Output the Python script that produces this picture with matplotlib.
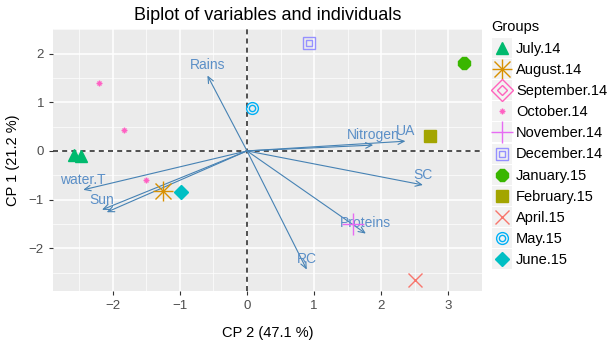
import numpy as np
import matplotlib
matplotlib.use("Agg")
from matplotlib import pyplot as plt

plt.rcParams['font.family'] = ['Liberation Sans', 'DejaVu Sans']

# individuals (CP2 = x, CP1 = y)
groups = ['July.14', 'August.14', 'September.14', 'October.14', 'November.14',
          'December.14', 'January.15', 'February.15', 'April.15', 'May.15', 'June.15']
grp_x = {
    'July.14': [-2.57, -2.47],
    'August.14': [-1.25],
    'September.14': [],
    'October.14': [-2.20, -1.83, -1.50],
    'November.14': [1.58],
    'December.14': [0.93],
    'January.15': [3.23],
    'February.15': [2.73],
    'April.15': [2.50],
    'May.15': [0.07],
    'June.15': [-0.98],
}
grp_y = {
    'July.14': [-0.08, -0.10],
    'August.14': [-0.83],
    'September.14': [],
    'October.14': [1.40, 0.42, -0.59],
    'November.14': [-1.50],
    'December.14': [2.21],
    'January.15': [1.81],
    'February.15': [0.30],
    'April.15': [-2.65],
    'May.15': [0.88],
    'June.15': [-0.85],
}

# variables (arrow tips)
var_names = ['Rains', 'water.T', 'Sun', '', 'Nitrogen', 'UA', 'SC', 'Proteins', 'RC']
var_x = [-0.59, -2.44, -2.16, -2.09, 1.88, 2.36, 2.62, 1.77, 0.89]
var_y = [1.55, -0.80, -1.21, -1.26, 0.12, 0.20, -0.70, -1.70, -2.44]

# marker styles: list of (marker, size, filled) layered
styles = {
    'July.14': ('#00BA6E', [('^', 9, True)]),
    'August.14': ('#D89000', [('+', 14, False), ('x', 11, False)]),
    'September.14': ('#FF62BC', [('D', 11, False), ('D', 5, False)]),
    'October.14': ('#FF61C3', [('+', 4, False), ('x', 3, False)]),
    'November.14': ('#E76BF3', [('+', 16, False)]),
    'December.14': ('#9590FF', [('s', 9, False), ('s', 4.5, False)]),
    'January.15': ('#39B600', [('8', 9, True)]),
    'February.15': ('#A3A500', [('s', 9, True)]),
    'April.15': ('#F8766D', [('x', 9.5, False)]),
    'May.15': ('#00B0F6', [('o', 8.5, False), ('o', 4.5, False)]),
    'June.15': ('#00BFC4', [('D', 7, True)]),
}

fig = plt.figure(figsize=(6.15, 3.43), dpi=100)
ax = fig.add_axes([53 / 615, 1 - 291 / 343, 429 / 615, 261.7 / 343])
ax.set_facecolor('#EBEBEB')
ax.set_xlim(-2.89, 3.50)
ax.set_ylim(-2.88, 2.47)
ax.set_xticks([-2, -1, 0, 1, 2, 3])
ax.set_yticks([-2, -1, 0, 1, 2])
ax.set_xticks(np.arange(-2.5, 3.6, 1), minor=True)
ax.set_yticks(np.arange(-2.5, 2.6, 1), minor=True)
ax.grid(True, which='major', color='white', lw=1.1)
ax.grid(True, which='minor', color='white', lw=0.5)
ax.set_axisbelow(True)
for s in ax.spines.values():
    s.set_visible(False)
ax.tick_params(which='major', length=3, color='#333333', labelcolor='#4D4D4D', labelsize=9.5)
ax.tick_params(which='minor', length=0)

ax.axhline(0, color='#333333', lw=1.2, ls=(0, (3, 2.5)), zorder=1)
ax.axvline(0, color='#333333', lw=1.2, ls=(0, (3, 2.5)), zorder=1)

arrow_col = '#4682B4'
for name, vx, vy in zip(var_names, var_x, var_y):
    ax.annotate('', xy=(vx, vy), xytext=(0, 0),
                arrowprops=dict(arrowstyle='->,head_length=0.45,head_width=0.2',
                                color=arrow_col, lw=0.8, shrinkA=0, shrinkB=0), zorder=2)
    if name:
        ax.text(vx, vy + 0.21, name, color='#5B8FC7', fontsize=10, ha='center', va='center', zorder=3)

for g in groups:
    col, layers = styles[g]
    for m, ms, filled in layers:
        ax.plot(grp_x[g], grp_y[g], ls='none', marker=m, ms=ms, mew=1.0,
                mfc=col if filled else 'none', mec=col, zorder=4)

ax.set_xlabel('CP 2 (47.1 %)', fontsize=10.5, labelpad=10)
ax.set_ylabel('CP 1 (21.2 %)', fontsize=10.5, labelpad=6)
ax.set_title('Biplot of variables and individuals', fontsize=13, pad=7)

# legend drawn by hand so keys get the grey background
leg = fig.add_axes([0, 0, 1, 1])
leg.set_xlim(0, 615)
leg.set_ylim(343, 0)
leg.axis('off')
leg.text(491, 27, 'Groups', fontsize=10.5, va='center', ha='left')
for i, g in enumerate(groups):
    yc = 48 + i * 21.1
    leg.add_patch(plt.Rectangle((492, yc - 10), 20, 20, color='#F2F2F2', lw=0))
    col, layers = styles[g]
    for m, ms, filled in layers:
        leg.plot([502], [yc], marker=m, ms=ms, mew=1.0,
                 mfc=col if filled else 'none', mec=col, ls='none')
    leg.text(516, yc + 1, g, fontsize=10.5, va='center', ha='left')

fig.savefig('out.png', dpi=100)
